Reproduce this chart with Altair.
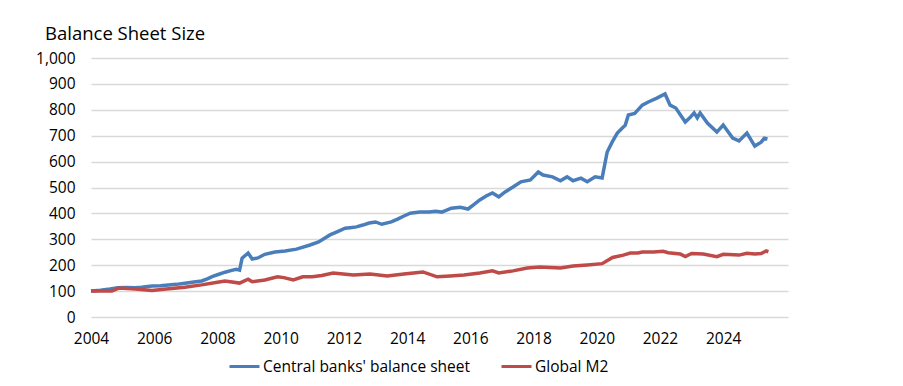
import altair as alt
import pandas as pd

cb_years = [2004.0, 2004.3, 2004.6, 2004.85, 2005.1, 2005.4, 2005.6, 2005.93, 2006.2, 2006.45,
            2006.7, 2006.97, 2007.2, 2007.5, 2007.7, 2007.83, 2008.0, 2008.24, 2008.45, 2008.6,
            2008.7, 2008.78, 2008.97, 2009.1, 2009.28, 2009.5, 2009.82, 2010.14, 2010.5, 2010.93,
            2011.2, 2011.56, 2011.8, 2012.04, 2012.2, 2012.4, 2012.6, 2012.8, 2013.0, 2013.2,
            2013.5, 2013.7, 2013.9, 2014.1, 2014.4, 2014.7, 2014.9, 2015.1, 2015.4, 2015.68,
            2015.93, 2016.1, 2016.3, 2016.5, 2016.7, 2016.9, 2017.1, 2017.35, 2017.6, 2017.9,
            2018.15, 2018.3, 2018.6, 2018.85, 2019.06, 2019.25, 2019.5, 2019.7, 2019.95, 2020.17,
            2020.33, 2020.49, 2020.65, 2020.8, 2020.9, 2021.0, 2021.2, 2021.44, 2021.63, 2021.9,
            2022.16, 2022.32, 2022.5, 2022.8, 2022.95, 2023.08, 2023.18, 2023.27, 2023.5, 2023.8,
            2024.0, 2024.3, 2024.5, 2024.75, 2025.0, 2025.2, 2025.3, 2025.4]
cb_values = [100, 103, 108, 113, 114, 113, 115, 120, 121, 124,
             126, 130, 134, 139, 148, 156, 163, 173, 180, 184,
             181, 227, 247, 224, 228, 242, 251, 255, 262, 278,
             290, 317, 330, 343, 345, 348, 355, 363, 367, 358,
             367, 378, 390, 401, 405, 405, 408, 405, 420, 424,
             417, 433, 452, 467, 479, 464, 483, 502, 522, 529,
             560, 548, 541, 526, 541, 526, 536, 522, 541, 537,
             637, 676, 710, 729, 740, 780, 786, 818, 830, 845,
             861, 818, 807, 753, 770, 788, 769, 788, 749, 714,
             741, 691, 680, 710, 660, 675, 690, 687]

m2_years = [2004.0, 2004.66, 2004.9, 2005.4, 2005.93, 2006.3, 2006.97, 2007.5, 2008.0, 2008.24,
            2008.7, 2008.97, 2009.1, 2009.5, 2009.9, 2010.1, 2010.4, 2010.7, 2011.0, 2011.3,
            2011.66, 2012.3, 2012.83, 2013.37, 2013.9, 2014.5, 2014.95, 2015.36, 2015.8, 2016.3,
            2016.7, 2016.9, 2017.35, 2017.8, 2018.2, 2018.85, 2019.25, 2019.7, 2020.17, 2020.5,
            2020.84, 2021.06, 2021.3, 2021.44, 2021.8, 2022.1, 2022.26, 2022.64, 2022.8, 2023.0,
            2023.37, 2023.8, 2024.0, 2024.5, 2024.75, 2025.0, 2025.2, 2025.36, 2025.43]
m2_values = [100, 100, 112, 108, 102, 107, 115, 124, 134, 139,
             131, 146, 136, 143, 155, 152, 143, 155, 155, 160,
             170, 162, 166, 158, 166, 174, 155, 158, 162, 170,
             178, 170, 178, 189, 193, 189, 197, 201, 206, 230,
             239, 247, 247, 251, 251, 254, 248, 243, 233, 245,
             243, 233, 242, 239, 246, 243, 245, 255, 252]

series_names = ["Central banks' balance sheet", "Global M2"]
series_colors = ["#4A7EBB", "#BE4B48"]
x_ticks = list(range(2004, 2025, 2))
y_ticks = list(range(0, 1001, 100))

df = pd.concat([
    pd.DataFrame({"year": cb_years, "value": cb_values, "series": series_names[0]}),
    pd.DataFrame({"year": m2_years, "value": m2_values, "series": series_names[1]}),
])

FONT = "Open Sans"

chart = alt.Chart(df).mark_line(strokeWidth=3.5, interpolate="linear").encode(
    x=alt.X("year:Q",
            scale=alt.Scale(domain=[2004, 2026.05], nice=False, zero=False),
            axis=alt.Axis(values=x_ticks, format="d", title=None, grid=False,
                          ticks=False, domain=False, labelPadding=14, labelFlush=False,
                          labelFontSize=15.5, labelColor="#000000", labelFont=FONT)),
    y=alt.Y("value:Q",
            scale=alt.Scale(domain=[0, 1000], nice=False),
            axis=alt.Axis(values=y_ticks, format=",d", title=None, grid=True,
                          gridColor="#D9D9D9", gridWidth=1.5, ticks=False, domain=False,
                          labelPadding=16, labelFontSize=15.5, labelColor="#000000",
                          labelFont=FONT)),
    color=alt.Color("series:N",
                    scale=alt.Scale(domain=series_names, range=series_colors),
                    legend=alt.Legend(title=None, orient="none", direction="horizontal",
                                      legendX=137, legendY=292,
                                      symbolType="stroke", symbolSize=900,
                                      symbolStrokeWidth=3, labelFontSize=15.5,
                                      labelFont=FONT, labelColor="#000000",
                                      labelOffset=2, columnPadding=24, labelLimit=0)),
).properties(
    width=697,
    height=259,
    title=alt.TitleParams("Balance Sheet Size", anchor="start", frame="group", dx=-46,
                          offset=8, fontSize=18.5, font=FONT, fontWeight="normal",
                          color="#000000"),
    padding={"left": 83, "top": 50, "right": 107, "bottom": 61},
    autosize=alt.AutoSizeParams(type="none"),
).configure_view(stroke=None)

chart.save("out.html", embed_options={"renderer": "svg", "actions": False})
